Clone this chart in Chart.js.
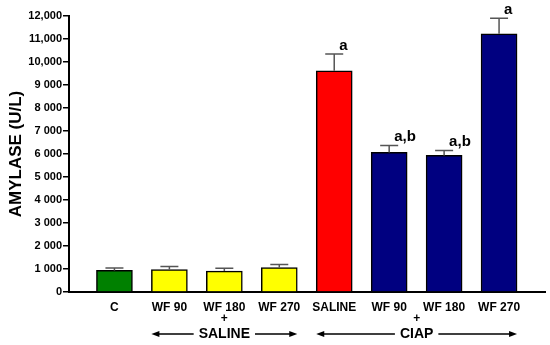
<!DOCTYPE html>
<html>

<head>
    <title>Amylase</title>
    <script src="https://cdn.jsdelivr.net/npm/chart.js@4.4.0/dist/chart.umd.min.js"></script>
    <style>
        body { margin: 0; background: #fff; }
        #wrap { width: 550px; height: 345px; }
    </style>
</head>

<body>
    <div id="wrap"><canvas id="myChart"></canvas></div>
    <script>

        var categories = ['C', 'WF 90', 'WF 180', 'WF 270', 'SALINE', 'WF 90', 'WF 180', 'WF 270'];
        var means = [940, 980, 910, 1060, 9620, 6070, 5940, 11230];
        var errors = [100, 130, 120, 140, 730, 300, 210, 670];
        var letters = ['', '', '', '', 'a', 'a,b', 'a,b', 'a'];
        var barColors = ['#008000', '#ffff00', '#ffff00', '#ffff00', '#ff0000', '#000080', '#000080', '#000080'];
        var yTickLabels = ['0', '1 000', '2 000', '3 000', '4 000', '5 000', '6 000', '7 000', '8 000', '9 000', '10,000', '11,000', '12,000'];
        // treatment groups under the axis (index of first and last bar)
        var groupLabels = ['SALINE', 'CIAP'];
        var groupFrom = [1, 4];
        var groupTo = [3, 7];

        var FONT = 'Arial, "Liberation Sans", sans-serif';

        // error bars (upper half only) and significance letters
        var errorBarPlugin = {
            id: 'errorBars',
            afterDatasetsDraw: function (chart) {
                var ctx = chart.ctx;
                var x = chart.scales.x, y = chart.scales.y;
                ctx.save();
                for (var i = 0; i < means.length; i++) {
                    var px = x.getPixelForValue(i);
                    var top = y.getPixelForValue(means[i]);
                    var cap = y.getPixelForValue(means[i] + errors[i]);
                    ctx.strokeStyle = '#555';
                    ctx.lineWidth = 1.5;
                    ctx.beginPath();
                    ctx.moveTo(px, top);
                    ctx.lineTo(px, cap);
                    ctx.moveTo(px - 9, cap);
                    ctx.lineTo(px + 9, cap);
                    ctx.stroke();
                    if (letters[i]) {
                        ctx.fillStyle = '#000';
                        ctx.font = 'bold 15px ' + FONT;
                        ctx.textAlign = 'left';
                        ctx.textBaseline = 'bottom';
                        ctx.fillText(letters[i], px + 5, cap - 1);
                    }
                }
                ctx.restore();
            }
        };

        // "+" and arrows with group names below the x labels
        var groupPlugin = {
            id: 'groups',
            afterDraw: function (chart) {
                var ctx = chart.ctx;
                var x = chart.scales.x;
                var half = 18;
                ctx.save();
                ctx.fillStyle = '#000';
                ctx.strokeStyle = '#000';
                ctx.lineWidth = 1.5;
                for (var g = 0; g < groupLabels.length; g++) {
                    var left = x.getPixelForValue(groupFrom[g]) - half;
                    var right = x.getPixelForValue(groupTo[g]) + half;
                    var mid = (x.getPixelForValue(groupFrom[g]) + x.getPixelForValue(groupTo[g])) / 2;
                    var ay = 334;
                    ctx.font = 'bold 12px ' + FONT;
                    ctx.textAlign = 'center';
                    ctx.textBaseline = 'middle';
                    ctx.fillText('+', mid, 319);
                    ctx.font = 'bold 14px ' + FONT;
                    ctx.fillText(groupLabels[g], mid, ay);
                    var tw = ctx.measureText(groupLabels[g]).width / 2 + 5;
                    ctx.beginPath();
                    ctx.moveTo(left + 6, ay);
                    ctx.lineTo(mid - tw, ay);
                    ctx.moveTo(mid + tw, ay);
                    ctx.lineTo(right - 6, ay);
                    ctx.stroke();
                    ctx.beginPath();
                    ctx.moveTo(left, ay);
                    ctx.lineTo(left + 8, ay - 3);
                    ctx.lineTo(left + 8, ay + 3);
                    ctx.closePath();
                    ctx.fill();
                    ctx.beginPath();
                    ctx.moveTo(right, ay);
                    ctx.lineTo(right - 8, ay - 3);
                    ctx.lineTo(right - 8, ay + 3);
                    ctx.closePath();
                    ctx.fill();
                }
                ctx.restore();
            }
        };

        var ctx = document.getElementById('myChart').getContext('2d');
        var chart = new Chart(ctx, {
            type: 'bar',
            data: {
                datasets: [{
                    data: means.map(function (v, i) { return { x: i, y: v }; }),
                    backgroundColor: barColors,
                    borderColor: '#000',
                    borderWidth: 1.5,
                    barThickness: 36
                }]
            },
            options: {
                responsive: true,
                maintainAspectRatio: false,
                animation: false,
                layout: { padding: { top: 16, right: 5, left: 0, bottom: 0 } },
                plugins: {
                    legend: { display: false },
                    tooltip: { enabled: false }
                },
                scales: {
                    x: {
                        type: 'linear',
                        offset: false,
                        min: -0.827,
                        max: 7.836,
                        grid: { display: false, drawTicks: false, offset: false },
                        border: { display: true, color: '#000', width: 2 },
                        ticks: {
                            stepSize: 1,
                            includeBounds: false,
                            autoSkip: false,
                            maxRotation: 0,
                            padding: 8,
                            color: '#000',
                            font: { family: FONT, size: 12, weight: 'bold' },
                            callback: function (v) {
                                return Number.isInteger(v) && categories[v] !== undefined ? categories[v] : '';
                            }
                        },
                        afterFit: function (s) { s.height = 53; }
                    },
                    y: {
                        min: 0,
                        max: 12000,
                        grid: { drawOnChartArea: false, tickLength: 6, color: '#000', lineWidth: 1.5 },
                        border: { display: true, color: '#000', width: 2 },
                        ticks: {
                            stepSize: 1000,
                            padding: 1,
                            color: '#000',
                            font: { family: FONT, size: 11, weight: 'bold' },
                            callback: function (v, i) { return yTickLabels[i]; }
                        },
                        title: {
                            display: true,
                            text: 'AMYLASE (U/L)',
                            color: '#000',
                            font: { family: FONT, size: 17, weight: 'bold' },
                            padding: { top: 6, bottom: 0 }
                        },
                        afterFit: function (s) { s.width = 69; }
                    }
                }
            },
            plugins: [errorBarPlugin, groupPlugin]
        });
    </script>
</body>

</html>
